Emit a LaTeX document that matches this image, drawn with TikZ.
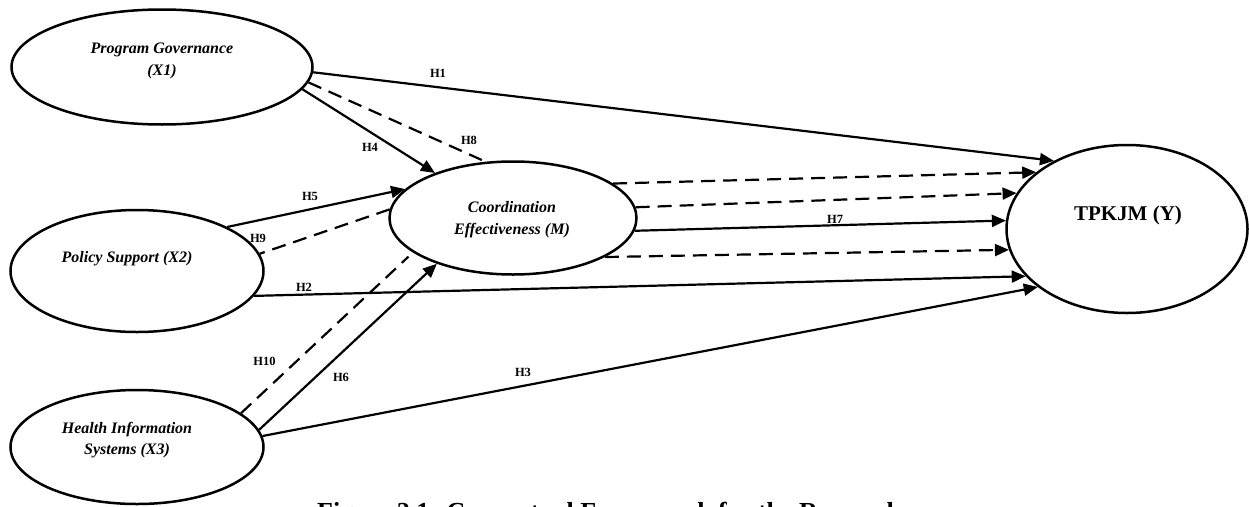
\documentclass[tikz,border=0pt]{standalone}
\usepackage{fontspec}
\setmainfont{Liberation Serif}
\usetikzlibrary{arrows.meta,shapes.geometric}
\begin{document}
\begin{tikzpicture}[x=1pt,y=-1pt,
  latent/.style={ellipse, draw, line width=2.5pt, inner sep=0pt},
  ltext/.style={inner sep=0pt, align=center, font=\bfseries\itshape\fontsize{16}{21.5}\selectfont},
  hlab/.style={inner sep=0pt, font=\bfseries\fontsize{12.5}{14}\selectfont},
  arr/.style={line width=2.2pt, -{Triangle[length=14pt,width=12pt]}},
  dsh/.style={line width=2.2pt, dash pattern=on 14pt off 8pt},
  dsharr/.style={dsh, -{Triangle[length=14pt,width=12pt]}}]
\useasboundingbox (0,0) rectangle (1249,506);
% ellipses
\node[latent, minimum width=301pt, minimum height=115pt] (X1) at (162,67) {};
\node[latent, minimum width=253pt, minimum height=122pt] (X2) at (137,271) {};
\node[latent, minimum width=253pt, minimum height=114pt] (X3) at (137,447) {};
\node[latent, minimum width=247pt, minimum height=113pt] (M) at (513,218) {};
\node[latent, minimum width=241pt, minimum height=168pt] (Y) at (1127,229) {};
% texts
\node[ltext] (tX1) at (162,61) {Program Governance\\(X1)};
\node[ltext] (tX2) at (127,259) {Policy Support (X2)};
\node[ltext] (tX3) at (127,440) {Health Information\\Systems (X3)};
\node[ltext] (tM) at (512,219.5) {Coordination\\Effectiveness (M)};
\node[inner sep=0pt, font=\bfseries\fontsize{21}{24}\selectfont] (tY) at (1128,215) {TPKJM (Y)};
% connectors
\draw[arr] (X1.-2) -- (Y.137.5);
\draw[dsh] (X1.-6) -- (M.116);
\draw[arr] (X1.-9) -- (M.150);
\draw[arr] (X2.26) -- (M.165);
\draw[dsh] (M.176.7) -- (X2.8.5);
\draw[arr] (X2.-12) -- (Y.205);
\draw[arr] (X3.5.9) -- (Y.213);
\draw[arr] (X3.8.1) -- (M.211);
\draw[dsh, shorten >=6pt] (X3.18.6) -- (M.199);
\draw[dsharr] (M.19) -- (Y.148.3);
\draw[dsharr] (M.5.2) -- (Y.162.6);
\draw[arr] (M.-6) -- (Y.176.7);
\draw[dsharr] (M.-23) -- (Y.190);
% labels
\node[hlab] (h1) at (438,73) {H1};
\node[hlab] (h8) at (469,140) {H8};
\node[hlab] (h4) at (370,147) {H4};
\node[hlab] (h5) at (310,196) {H5};
\node[hlab] (h9) at (258,238) {H9};
\node[hlab] (h2) at (304,287) {H2};
\node[hlab] (h10) at (264.5,361) {H10};
\node[hlab] (h6) at (341,377) {H6};
\node[hlab] (h7) at (835,219) {H7};
\node[hlab] (h3) at (523,372) {H3};
% caption
\node[anchor=north west, inner sep=0pt, font=\bfseries\fontsize{26}{30}\selectfont] (cap) at (317,502) {Figure 2.1: Conceptual Framework for the Research};
\end{tikzpicture}
\end{document}
